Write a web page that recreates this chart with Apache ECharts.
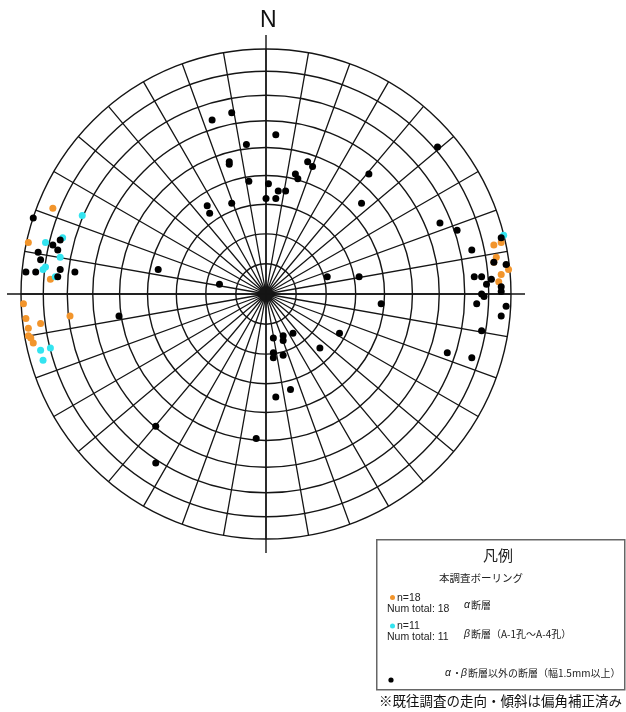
<!DOCTYPE html>
<html>
<head>
<meta charset="utf-8">
<script src="https://cdn.jsdelivr.net/npm/echarts@6/dist/echarts.min.js"></script>
<style>
  html, body { margin: 0; padding: 0; background: #fff; }
  #net { width: 626px; height: 712px; }
</style>
</head>
<body>
<div id="net"></div>
<script type="text/javascript">
// 投影座標（東, 北）。外周円 = 1（シュミットネット下半球）
var alphaFaults = [
  [-0.87, 0.35], [-0.97, 0.21], [-0.88, 0.06], [-0.99, -0.04], [-0.98, -0.10],
  [-0.97, -0.14], [-0.92, -0.12], [-0.80, -0.09], [-0.97, -0.17], [-0.96, -0.18],
  [-0.95, -0.20], [0.93, 0.20], [0.96, 0.21], [0.94, 0.15], [0.99, 0.10],
  [0.96, 0.08], [0.95, 0.05], [0.93, 0.13]
]
var betaFaults = [
  [-0.75, 0.32], [-0.90, 0.21], [-0.83, 0.23], [-0.84, 0.15], [-0.90, 0.11],
  [-0.91, 0.10], [-0.86, 0.07], [-0.92, -0.23], [-0.88, -0.22], [-0.91, -0.27],
  [0.97, 0.24]
]
var otherFaults = [
  [-0.22, 0.71], [-0.14, 0.74], [-0.08, 0.61], [-0.15, 0.54], [-0.15, 0.53],
  [-0.07, 0.46], [0.01, 0.45], [0.00, 0.39], [-0.14, 0.37], [-0.24, 0.36],
  [-0.23, 0.33], [-0.95, 0.31], [-0.84, 0.22], [-0.87, 0.20], [-0.85, 0.18],
  [-0.93, 0.17], [-0.92, 0.14], [-0.84, 0.10], [-0.98, 0.09], [-0.94, 0.09],
  [-0.78, 0.09], [-0.85, 0.07], [-0.44, 0.10], [-0.19, 0.04], [-0.60, -0.09],
  [-0.45, -0.54], [-0.04, -0.59], [-0.45, -0.69],
  [0.04, 0.65], [0.70, 0.60], [0.17, 0.54], [0.19, 0.52], [0.12, 0.49],
  [0.13, 0.47], [0.42, 0.49], [0.05, 0.42], [0.08, 0.42], [0.04, 0.39],
  [0.39, 0.37], [0.71, 0.29], [0.78, 0.26], [0.96, 0.23], [0.84, 0.18],
  [0.93, 0.13], [0.98, 0.12], [0.85, 0.07], [0.88, 0.07], [0.92, 0.06],
  [0.90, 0.04], [0.96, 0.03], [0.96, 0.01], [0.88, 0.00], [0.89, -0.01],
  [0.86, -0.04], [0.98, -0.05], [0.96, -0.09], [0.88, -0.15], [0.25, 0.07],
  [0.38, 0.07], [0.47, -0.04], [0.30, -0.16], [0.11, -0.16], [0.03, -0.18],
  [0.07, -0.17], [0.07, -0.19], [0.03, -0.24], [0.03, -0.26], [0.07, -0.25],
  [0.22, -0.22], [0.74, -0.24], [0.84, -0.26], [0.10, -0.39], [0.04, -0.42]
]
// 同心円の傾斜角（10°毎）
var ringDips = [10, 20, 30, 40, 50, 60, 70, 80]

var center = [266, 294]
var netRadius = 245
var lineColor = '#151515'

// 等面積投影の半径（90° = 1）
function schmidt(dip) {
  return Math.SQRT2 * Math.sin(dip / 2 * Math.PI / 180)
}
// 東・北 → [半径, 方位角]
function toPolar(p) {
  var r = Math.sqrt(p[0] * p[0] + p[1] * p[1])
  var a = Math.atan2(p[0], p[1]) * 180 / Math.PI
  if (a < 0) a += 360
  return [r, a]
}

var polars = [{ center: center, radius: netRadius }]
var angleAxes = [{
  polarIndex: 0, type: 'value', min: 0, max: 360, interval: 10,
  startAngle: 90, clockwise: true,
  axisLine: { show: true, lineStyle: { color: lineColor, width: 1.4 } },
  axisTick: { show: false }, axisLabel: { show: false },
  splitLine: { show: true, lineStyle: { color: lineColor, width: 1.3 } }
}]
var radiusAxes = [{
  polarIndex: 0, type: 'value', min: 0, max: 1,
  axisLine: { show: false }, axisTick: { show: false }, axisLabel: { show: false },
  splitLine: { show: false }
}]
ringDips.forEach(function (d, i) {
  polars.push({ center: center, radius: netRadius * schmidt(d) })
  angleAxes.push({
    polarIndex: i + 1, type: 'value', min: 0, max: 360, startAngle: 90,
    axisLine: { show: true, lineStyle: { color: lineColor, width: 1.4 } },
    axisTick: { show: false }, axisLabel: { show: false }, splitLine: { show: false }
  })
  radiusAxes.push({
    polarIndex: i + 1, type: 'value', min: 0, max: 1,
    axisLine: { show: false }, axisTick: { show: false }, axisLabel: { show: false },
    splitLine: { show: false }
  })
})
// 東西・南北の十字線（外周より少し長く）
var crossIdx = polars.length
polars.push({ center: center, radius: netRadius + 14 })
angleAxes.push({
  polarIndex: crossIdx, type: 'value', min: 0, max: 360, interval: 90, startAngle: 90,
  axisLine: { show: false }, axisTick: { show: false }, axisLabel: { show: false },
  splitLine: { show: true, lineStyle: { color: lineColor, width: 1.4 } }
})
radiusAxes.push({
  polarIndex: crossIdx, type: 'value', min: 0, max: 1,
  axisLine: { show: false }, axisTick: { show: false }, axisLabel: { show: false },
  splitLine: { show: false }
})

var jpFont = '"Noto Sans CJK JP", sans-serif'
var enFont = '"Liberation Sans", Arial, sans-serif'

var chart = echarts.init(document.getElementById('net'), null, { renderer: 'canvas' })
var option = {
  backgroundColor: '#ffffff',
  animation: false,
  title: {
    text: 'N', left: 255, top: 4,
    textStyle: { fontFamily: enFont, fontSize: 23, fontWeight: 'normal', color: '#111' }
  },
  polar: polars,
  angleAxis: angleAxes,
  radiusAxis: radiusAxes,
  series: [
    {
      name: 'α断層', type: 'scatter', coordinateSystem: 'polar', polarIndex: 0,
      symbolSize: 7, itemStyle: { color: '#f2952c', opacity: 1 }, z: 3,
      data: alphaFaults.map(toPolar)
    },
    {
      name: 'β断層', type: 'scatter', coordinateSystem: 'polar', polarIndex: 0,
      symbolSize: 7, itemStyle: { color: '#33e4f0', opacity: 1 }, z: 4,
      data: betaFaults.map(toPolar)
    },
    {
      name: 'α・β断層以外の断層', type: 'scatter', coordinateSystem: 'polar', polarIndex: 0,
      symbolSize: 7, itemStyle: { color: '#000000', opacity: 1 }, z: 5,
      data: otherFaults.map(toPolar)
    }
  ],
  graphic: [
    {
      type: 'rect', left: 376, top: 539, z: 10,
      shape: { width: 248, height: 150 },
      style: { fill: '#fff', stroke: '#666', lineWidth: 1.5 }
    },
    { type: 'text', x: 498, y: 555, z: 11, style: { text: '凡例', font: '15px ' + jpFont, fill: '#222', align: 'center', verticalAlign: 'middle' } },
    { type: 'text', x: 481, y: 578, z: 11, style: { text: '本調査ボーリング', font: '10.5px ' + jpFont, fill: '#222', align: 'center', verticalAlign: 'middle' } },
    { type: 'circle', z: 11, shape: { cx: 392.5, cy: 597.5, r: 2.5 }, style: { fill: '#f2952c' } },
    { type: 'text', x: 397, y: 598, z: 11, style: { text: 'n=18', font: '10.5px ' + enFont, fill: '#222', verticalAlign: 'middle' } },
    { type: 'text', x: 387, y: 609, z: 11, style: { text: 'Num total: 18', font: '10.5px ' + enFont, fill: '#222', verticalAlign: 'middle' } },
    { type: 'text', x: 464, y: 605, z: 11, style: { text: 'α', font: 'italic 10.5px ' + enFont, fill: '#222', verticalAlign: 'middle' } },
    { type: 'text', x: 471, y: 605, z: 11, style: { text: '断層', font: '10px ' + jpFont, fill: '#222', verticalAlign: 'middle' } },
    { type: 'circle', z: 11, shape: { cx: 392.5, cy: 626, r: 2.5 }, style: { fill: '#33e4f0' } },
    { type: 'text', x: 397, y: 626, z: 11, style: { text: 'n=11', font: '10.5px ' + enFont, fill: '#222', verticalAlign: 'middle' } },
    { type: 'text', x: 387, y: 637, z: 11, style: { text: 'Num total: 11', font: '10.5px ' + enFont, fill: '#222', verticalAlign: 'middle' } },
    { type: 'text', x: 464, y: 634, z: 11, style: { text: 'β', font: 'italic 10.5px ' + enFont, fill: '#222', verticalAlign: 'middle' } },
    { type: 'text', x: 471, y: 634, z: 11, style: { text: '断層（A-1孔～A-4孔）', font: '10px ' + jpFont, fill: '#222', verticalAlign: 'middle' } },
    { type: 'circle', z: 11, shape: { cx: 391, cy: 680, r: 2.6 }, style: { fill: '#000' } },
    { type: 'text', x: 445, y: 673, z: 11, style: { text: 'α', font: 'italic 10.5px ' + enFont, fill: '#222', verticalAlign: 'middle' } },
    { type: 'text', x: 452, y: 673, z: 11, style: { text: '・', font: '10px ' + jpFont, fill: '#222', verticalAlign: 'middle' } },
    { type: 'text', x: 461, y: 673, z: 11, style: { text: 'β', font: 'italic 10.5px ' + enFont, fill: '#222', verticalAlign: 'middle' } },
    { type: 'text', x: 468, y: 673, z: 11, style: { text: '断層以外の断層（幅1.5mm以上）', font: '10px ' + jpFont, fill: '#222', verticalAlign: 'middle' } },
    { type: 'text', x: 622, y: 701, z: 11, style: { text: '※既往調査の走向・傾斜は偏角補正済み', font: '13.5px ' + jpFont, fill: '#111', align: 'right', verticalAlign: 'middle' } }
  ]
}
chart.setOption(option)
window.addEventListener('resize', () => {
  chart.resize()
})
</script>
</body>
</html>
